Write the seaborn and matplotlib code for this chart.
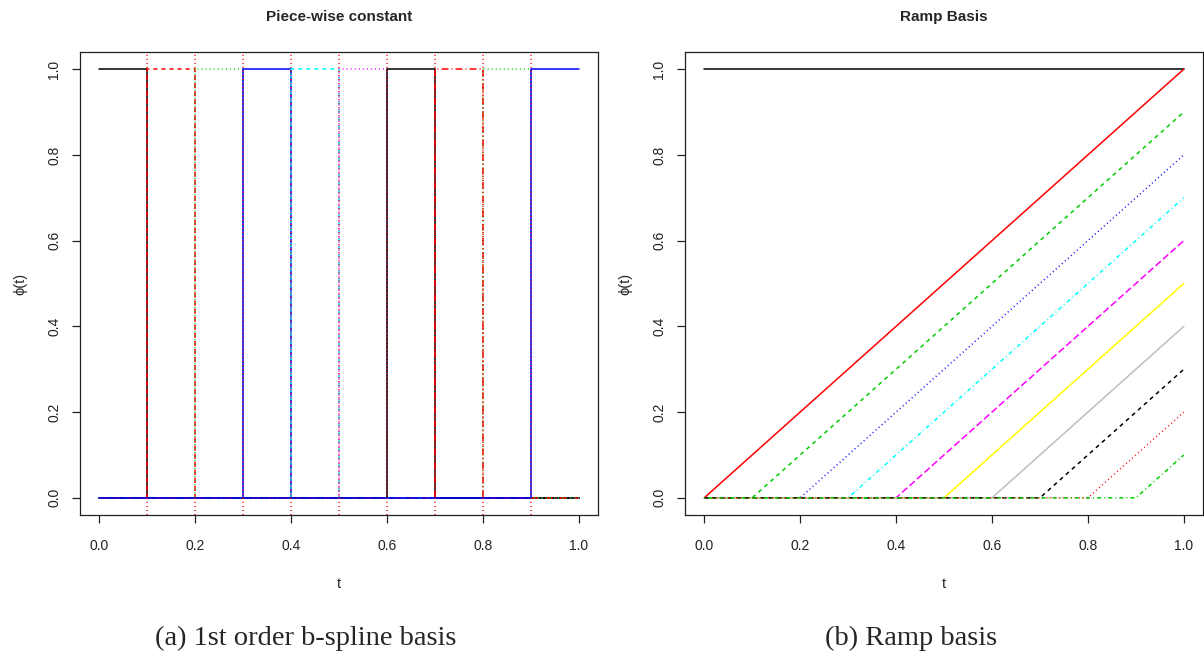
import numpy as np
import pandas as pd
import matplotlib
matplotlib.use("Agg")
import matplotlib.pyplot as plt
import seaborn as sns

sns.set_style("white")
plt.rcParams['font.family'] = ['Liberation Sans', 'DejaVu Sans']
plt.rcParams['lines.scale_dashes'] = False

# ---------------- data ----------------
knots = [0.0, 0.1, 0.2, 0.3, 0.4, 0.5, 0.6, 0.7, 0.8, 0.9, 1.0]
inner_knots = [0.1, 0.2, 0.3, 0.4, 0.5, 0.6, 0.7, 0.8, 0.9]
pc_colors = ["#000000", "#FF0000", "#00CD00", "#0000FF", "#00FFFF", "#FF00FF",
             "#000000", "#FF0000", "#00CD00", "#0000FF"]
pc_styles = ["solid", "dashed", "dotted", "solid", "dashed", "dotted",
             "solid", "dashdot", "dotted", "solid"]

ramp_starts = [0.0, 0.1, 0.2, 0.3, 0.4, 0.5, 0.6, 0.7, 0.8, 0.9]
ramp_ends = [1.0, 0.9, 0.8, 0.7, 0.6, 0.5, 0.4, 0.3, 0.2, 0.1]
const_level = 1.0
ramp_colors = ["#FF0000", "#00CD00", "#0000FF", "#00FFFF", "#FF00FF",
               "#FFFF00", "#BEBEBE", "#000000", "#FF0000", "#00CD00"]
ramp_styles = ["solid", "dashed", "dotted", "dotdash", "longdash",
               "solid", "solid", "dashed", "dotted", "dotdash"]

x_ticks = [0.0, 0.2, 0.4, 0.6, 0.8, 1.0]
y_ticks = [0.0, 0.2, 0.4, 0.6, 0.8, 1.0]
titles = ["Piece-wise constant", "Ramp Basis"]
captions = ["(a) 1st order b-spline basis", "(b) Ramp basis"]

# R-like dash patterns (points)
LS = {
    "solid": "-",
    "dashed": (0, (2.9, 2.9)),
    "dotted": (0, (0.7, 2.2)),
    "dotdash": (0, (0.7, 2.2, 2.9, 2.2)),
    "dashdot": (0, (5.0, 2.2, 0.7, 2.2)),
    "longdash": (0, (5.0, 2.2)),
}
LW = 1.1

fig = plt.figure(figsize=(12.04, 6.57), dpi=100)
axL = fig.add_axes([80/1204, 1-515/657, 518/1204, 463/657])
axR = fig.add_axes([685/1204, 1-515/657, 518/1204, 463/657])

# ---- left: piece-wise constant basis ----
x_lo, x_hi = knots[0], knots[-1]
n = len(knots) - 1
for k in range(n):
    a, b = knots[k], knots[k + 1]
    if k == 0:
        xs, ys = [a, b, b, x_hi], [1, 1, 0, 0]
    elif k == n - 1:
        xs, ys = [x_lo, a, a, b], [0, 0, 1, 1]
    else:
        xs, ys = [x_lo, a, a, b, b, x_hi], [0, 0, 1, 1, 0, 0]
    df = pd.DataFrame({"t": xs, "phi": ys})
    sns.lineplot(data=df, x="t", y="phi", sort=False, estimator=None,
                 color=pc_colors[k], linestyle=LS[pc_styles[k]], lw=LW, ax=axL)
for v in inner_knots:
    axL.axvline(v, color="#FF0000", linestyle=LS["dotted"], lw=LW)

# ---- right: ramp basis ----
dfc = pd.DataFrame({"t": [x_lo, x_hi], "phi": [const_level, const_level]})
sns.lineplot(data=dfc, x="t", y="phi", sort=False, estimator=None,
             color="#000000", lw=LW, ax=axR)
for k, (s, e) in enumerate(zip(ramp_starts, ramp_ends)):
    df = pd.DataFrame({"t": [x_lo, s, x_hi], "phi": [0, 0, e]})
    sns.lineplot(data=df, x="t", y="phi", sort=False, estimator=None,
                 color=ramp_colors[k], linestyle=LS[ramp_styles[k]], lw=LW, ax=axR)

for ax, title in zip([axL, axR], titles):
    ax.set_xlim(-0.04, 1.04)
    ax.set_ylim(-0.04, 1.04)
    ax.set_xticks(x_ticks)
    ax.set_yticks(y_ticks)
    ax.set_xticklabels([f"{v:.1f}" for v in x_ticks], fontsize=10)
    ax.set_yticklabels([f"{v:.1f}" for v in y_ticks], fontsize=10,
                       rotation=90, va="center")
    ax.tick_params(axis="both", direction="out", length=5.5, width=0.9,
                   colors="#222222", bottom=True, left=True)
    ax.tick_params(axis="x", pad=12)
    ax.tick_params(axis="y", pad=8)
    for sp in ax.spines.values():
        sp.set_visible(True)
        sp.set_color("#222222")
        sp.set_linewidth(0.9)
    ax.set_title(title, fontsize=11, fontweight="bold", pad=22)
    ax.set_xlabel("t", fontsize=10.5, labelpad=17)
    ax.set_ylabel("ϕ(t)", fontsize=10.5, labelpad=14)
    ax.grid(False)

fig.text(306/1204, 1-638/657, captions[0], ha="center", va="center",
         fontsize=20.5, family="Liberation Serif")
fig.text(911/1204, 1-638/657, captions[1], ha="center", va="center",
         fontsize=20.5, family="Liberation Serif")

fig.savefig("out.png", dpi=100, facecolor="white")
